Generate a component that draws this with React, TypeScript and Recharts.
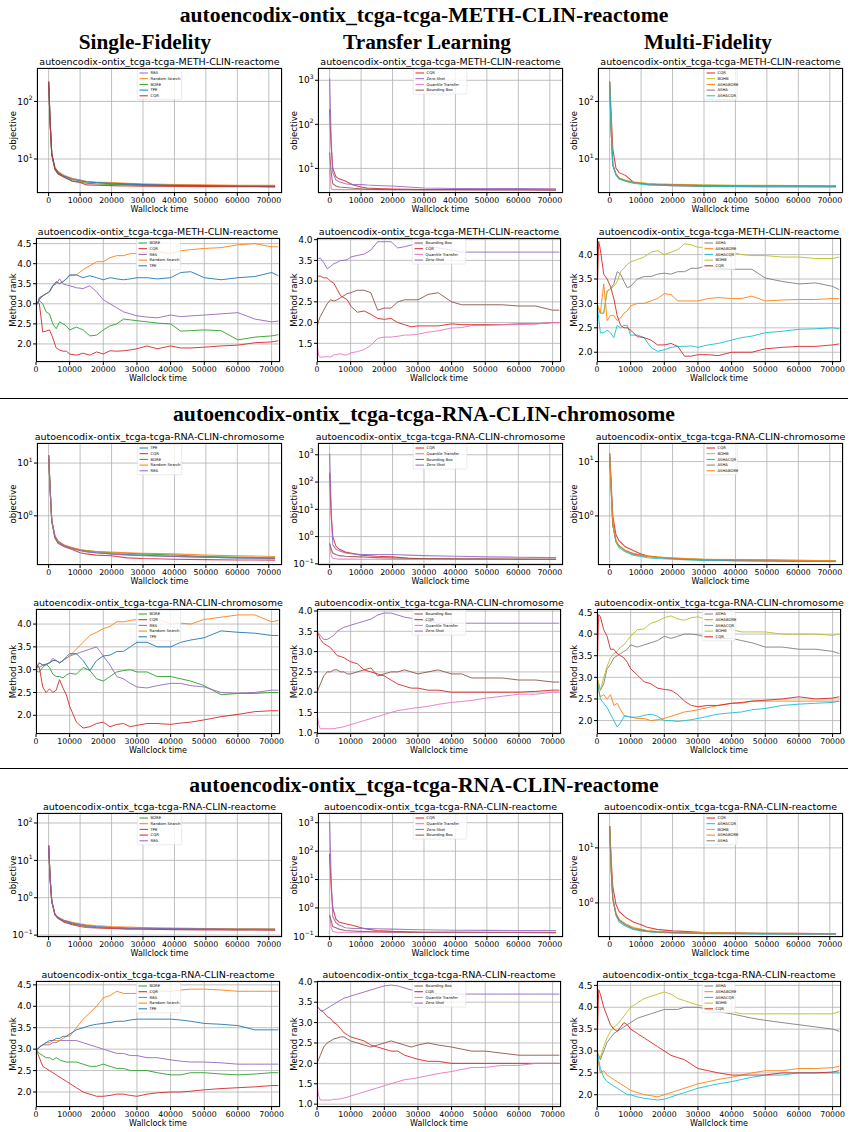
import React from "react";
import { LineChart, Line, XAxis, YAxis, CartesianGrid } from "recharts";

// ---- time grids (seconds) ----
const objTime = [0, 500, 1000, 2000, 3000, 5000, 7500, 10000, 12000, 15000, 20000, 25000, 30000, 40000, 50000, 60000, 72000];
const rankTime = [0, 500, 1000, 2000, 3000, 4000, 5000, 6000, 7000, 8000, 9000, 10000, 12000, 14000, 16000, 18000, 20000, 22000, 24000, 26000, 28000, 30000, 33000, 36000, 40000, 43000, 46000, 50000, 55000, 60000, 65000, 70000, 72000];
const xTicks = [0, 10000, 20000, 30000, 40000, 50000, 60000, 70000];

// ---- METH-CLIN-reactome ----
const methSfObjREA = [220, 40, 12, 7, 6, 5, 4.6, 4.3, 4.0, 3.9, 3.7, 3.6, 3.55, 3.5, 3.45, 3.4, 3.35];
const methSfObjRS = [220, 40, 12, 7, 6, 5.2, 4.6, 4.3, 4.1, 4.0, 3.9, 3.8, 3.7, 3.6, 3.55, 3.5, 3.5];
const methSfObjBORE = [220, 40, 12, 6.5, 5.5, 4.8, 4.2, 4.0, 3.8, 3.7, 3.6, 3.55, 3.5, 3.45, 3.4, 3.35, 3.3];
const methSfObjTPE = [220, 40, 12, 7, 5.8, 5, 4.4, 4.2, 4.0, 3.9, 3.8, 3.7, 3.6, 3.5, 3.45, 3.4, 3.38];
const methSfObjCQR = [220, 40, 12, 6.8, 5.6, 4.8, 4.1, 3.9, 3.55, 3.5, 3.45, 3.4, 3.38, 3.35, 3.32, 3.3, 3.28];

const methTlObjCQR = [220, 30, 10, 6.5, 5.8, 5.2, 4.2, 3.8, 3.6, 3.5, 3.4, 3.35, 3.3, 3.3, 3.28, 3.27, 3.25];
const methTlObjZS = [1100, 40, 8, 5.5, 5, 4.5, 4.3, 4.3, 4.2, 4.1, 4.0, 3.8, 3.6, 3.5, 3.5, 3.5, 3.45];
const methTlObjQT = [10, 3.5, 3.3, 3.3, 3.3, 3.3, 3.3, 3.3, 3.3, 3.3, 3.28, 3.28, 3.27, 3.27, 3.25, 3.25, 3.25];
const methTlObjBB = [23, 8, 4.5, 4.0, 3.8, 3.7, 3.55, 3.45, 3.4, 3.35, 3.3, 3.3, 3.3, 3.3, 3.28, 3.27, 3.25];

const methMfObjCQR = [220, 60, 15, 7, 5.8, 5.2, 4.0, 3.8, 3.6, 3.55, 3.45, 3.4, 3.35, 3.35, 3.3, 3.3, 3.3];
const methMfObjBOHB = [220, 30, 8, 5.5, 4.7, 4.3, 4.0, 3.9, 3.8, 3.7, 3.65, 3.6, 3.55, 3.5, 3.5, 3.45, 3.45];
const methMfObjASHABORE = [220, 30, 8, 5.5, 4.7, 4.2, 3.9, 3.8, 3.7, 3.65, 3.6, 3.55, 3.5, 3.45, 3.45, 3.45, 3.4];
const methMfObjASHA = [220, 30, 8, 5.4, 4.6, 4.2, 3.9, 3.75, 3.65, 3.6, 3.55, 3.5, 3.45, 3.42, 3.4, 3.38, 3.35];
const methMfObjASHACQR = [220, 30, 8, 5.3, 4.5, 4.1, 3.8, 3.65, 3.55, 3.5, 3.45, 3.4, 3.35, 3.32, 3.3, 3.3, 3.28];

const methSfRankBORE = [3.0, 3.05, 3.08, 3.0, 2.8, 2.75, 2.5, 2.38, 2.55, 2.5, 2.45, 2.35, 2.42, 2.35, 2.2, 2.22, 2.35, 2.45, 2.5, 2.62, 2.6, 2.58, 2.55, 2.52, 2.5, 2.32, 2.33, 2.35, 2.33, 2.1, 2.17, 2.2, 2.23];
const methSfRankCQR = [3.0, 3.05, 3.0, 2.3, 2.32, 2.35, 2.15, 1.9, 1.85, 1.82, 1.82, 1.75, 1.72, 1.77, 1.72, 1.8, 1.75, 1.83, 1.82, 1.83, 1.85, 1.88, 1.95, 1.88, 1.95, 1.9, 1.9, 1.92, 1.95, 1.97, 2.03, 2.05, 2.08];
const methSfRankREA = [3.0, 3.0, 3.1, 3.2, 3.25, 3.3, 3.45, 3.5, 3.62, 3.5, 3.47, 3.45, 3.4, 3.38, 3.45, 3.3, 3.1, 3.0, 2.9, 2.8, 2.75, 2.7, 2.67, 2.65, 2.72, 2.68, 2.7, 2.72, 2.75, 2.78, 2.62, 2.55, 2.57];
const methSfRankRS = [3.0, 3.0, 3.15, 3.2, 3.25, 3.3, 3.45, 3.55, 3.5, 3.55, 3.62, 3.7, 3.72, 3.85, 3.95, 4.05, 4.05, 4.15, 4.2, 4.2, 4.25, 4.25, 4.3, 4.3, 4.25, 4.32, 4.35, 4.38, 4.4, 4.47, 4.5, 4.42, 4.42];
const methSfRankTPE = [3.0, 3.0, 3.15, 3.2, 3.25, 3.3, 3.45, 3.55, 3.5, 3.55, 3.62, 3.72, 3.72, 3.65, 3.7, 3.65, 3.6, 3.65, 3.62, 3.6, 3.62, 3.65, 3.65, 3.62, 3.65, 3.78, 3.8, 3.65, 3.6, 3.65, 3.68, 3.78, 3.7];

const methTlRankBB = [1.9, 2.05, 2.15, 2.3, 2.45, 2.55, 2.52, 2.55, 2.6, 2.65, 2.7, 2.72, 2.78, 2.78, 2.72, 2.3, 2.35, 2.35, 2.5, 2.55, 2.55, 2.55, 2.68, 2.72, 2.5, 2.43, 2.43, 2.43, 2.43, 2.4, 2.4, 2.3, 2.3];
const methTlRankCQR = [3.1, 3.12, 3.12, 3.08, 3.08, 3.0, 2.95, 2.8, 2.65, 2.6, 2.55, 2.4, 2.25, 2.28, 2.2, 2.1, 2.08, 2.1, 2.0, 1.95, 1.9, 1.92, 1.92, 1.92, 1.97, 1.95, 1.95, 1.95, 1.95, 1.97, 1.97, 2.0, 2.0];
const methTlRankQT = [1.5, 1.2, 1.17, 1.17, 1.18, 1.17, 1.22, 1.23, 1.25, 1.22, 1.22, 1.27, 1.3, 1.35, 1.45, 1.62, 1.65, 1.65, 1.67, 1.7, 1.7, 1.72, 1.77, 1.8, 1.87, 1.88, 1.93, 1.93, 1.95, 1.95, 1.97, 2.0, 2.0];
const methTlRankZS = [3.55, 3.55, 3.55, 3.45, 3.3, 3.35, 3.42, 3.45, 3.5, 3.5, 3.52, 3.58, 3.62, 3.65, 3.75, 3.95, 3.95, 3.95, 3.8, 3.83, 3.87, 3.9, 3.85, 3.8, 3.75, 3.7, 3.7, 3.7, 3.7, 3.7, 3.7, 3.7, 3.7];

const methMfRankASHA = [3.0, 2.9, 2.8, 2.8, 3.25, 3.3, 3.4, 3.65, 3.6, 3.45, 3.32, 3.35, 3.5, 3.55, 3.55, 3.6, 3.62, 3.6, 3.65, 3.65, 3.72, 3.72, 3.78, 3.72, 3.7, 3.7, 3.7, 3.52, 3.45, 3.4, 3.42, 3.35, 3.28];
const methMfRankASHABORE = [3.0, 2.9, 2.8, 3.4, 2.65, 2.75, 2.75, 2.65, 2.7, 2.8, 2.85, 2.95, 3.0, 3.0, 3.05, 3.1, 3.2, 3.18, 3.05, 3.05, 3.05, 3.05, 3.1, 3.12, 3.1, 3.1, 3.15, 3.05, 3.07, 3.08, 3.08, 3.1, 3.1];
const methMfRankASHACQR = [3.0, 2.7, 2.4, 2.4, 2.45, 2.4, 2.3, 2.55, 2.5, 2.55, 2.55, 2.35, 2.35, 2.3, 2.1, 2.02, 2.05, 2.1, 2.12, 2.12, 2.13, 2.1, 2.15, 2.18, 2.25, 2.3, 2.33, 2.4, 2.43, 2.47, 2.48, 2.5, 2.48];
const methMfRankBOHB = [3.0, 2.9, 2.8, 2.8, 3.25, 3.3, 3.35, 3.45, 3.65, 3.72, 3.8, 3.85, 3.9, 3.95, 4.05, 4.08, 4.0, 4.05, 4.1, 4.22, 4.2, 4.15, 4.15, 4.1, 4.05, 4.0, 3.98, 3.98, 3.95, 3.95, 3.92, 3.92, 3.95];
const methMfRankCQR = [3.0, 4.27, 4.1, 3.6, 3.5, 3.35, 3.1, 2.75, 2.55, 2.5, 2.5, 2.45, 2.32, 2.3, 2.25, 2.15, 2.15, 2.18, 2.12, 1.92, 1.92, 1.95, 1.95, 1.93, 2.0, 2.0, 2.0, 2.07, 2.1, 2.12, 2.12, 2.15, 2.17];

// ---- RNA-CLIN-chromosome ----
const chrSfObjTPE = [14, 3, 0.8, 0.4, 0.32, 0.27, 0.24, 0.22, 0.21, 0.2, 0.19, 0.185, 0.18, 0.17, 0.165, 0.16, 0.155];
const chrSfObjCQR = [14, 3, 0.8, 0.38, 0.3, 0.26, 0.23, 0.2, 0.19, 0.18, 0.175, 0.16, 0.155, 0.15, 0.148, 0.146, 0.145];
const chrSfObjBORE = [14, 3, 0.8, 0.4, 0.32, 0.27, 0.245, 0.225, 0.22, 0.21, 0.2, 0.195, 0.19, 0.18, 0.17, 0.165, 0.16];
const chrSfObjRS = [14, 3, 0.8, 0.42, 0.33, 0.28, 0.25, 0.23, 0.22, 0.21, 0.205, 0.2, 0.195, 0.19, 0.18, 0.175, 0.17];
const chrSfObjREA = [14, 3, 0.8, 0.42, 0.33, 0.27, 0.24, 0.22, 0.21, 0.2, 0.19, 0.18, 0.175, 0.17, 0.165, 0.16, 0.158];

const chrTlObjCQR = [220, 5, 1.0, 0.45, 0.35, 0.27, 0.24, 0.21, 0.2, 0.19, 0.18, 0.16, 0.155, 0.15, 0.148, 0.146, 0.145];
const chrTlObjQT = [0.6, 0.2, 0.16, 0.155, 0.15, 0.15, 0.15, 0.148, 0.148, 0.147, 0.146, 0.145, 0.145, 0.145, 0.145, 0.145, 0.145];
const chrTlObjBB = [0.55, 0.35, 0.25, 0.22, 0.2, 0.19, 0.185, 0.18, 0.175, 0.17, 0.165, 0.16, 0.158, 0.155, 0.152, 0.15, 0.15];
const chrTlObjZS = [1100, 10, 0.5, 0.35, 0.3, 0.25, 0.23, 0.22, 0.22, 0.22, 0.22, 0.21, 0.2, 0.19, 0.18, 0.175, 0.17];

const chrMfObjCQR = [14, 4, 1.0, 0.45, 0.35, 0.27, 0.23, 0.2, 0.185, 0.175, 0.165, 0.158, 0.155, 0.15, 0.148, 0.146, 0.145];
const chrMfObjBOHB = [14, 3, 0.7, 0.35, 0.28, 0.23, 0.2, 0.19, 0.18, 0.175, 0.17, 0.165, 0.16, 0.158, 0.155, 0.152, 0.15];
const chrMfObjASHACQR = [14, 3, 0.7, 0.33, 0.26, 0.22, 0.19, 0.18, 0.17, 0.165, 0.16, 0.155, 0.152, 0.15, 0.148, 0.146, 0.145];
const chrMfObjASHA = [14, 3, 0.7, 0.35, 0.28, 0.23, 0.2, 0.19, 0.18, 0.172, 0.165, 0.16, 0.157, 0.155, 0.152, 0.15, 0.148];
const chrMfObjASHABORE = [14, 3, 0.7, 0.35, 0.28, 0.23, 0.205, 0.19, 0.18, 0.175, 0.168, 0.163, 0.16, 0.157, 0.155, 0.152, 0.15];

const chrSfRankBORE = [3.0, 2.95, 2.95, 3.05, 3.12, 3.05, 2.9, 2.85, 2.85, 2.82, 2.88, 2.92, 2.9, 3.05, 2.98, 2.8, 2.75, 2.85, 2.95, 2.98, 3.0, 2.95, 2.95, 2.85, 2.85, 2.8, 2.75, 2.65, 2.45, 2.48, 2.48, 2.5, 2.5];
const chrSfRankCQR = [3.0, 3.1, 3.05, 2.62, 2.5, 2.58, 2.5, 2.55, 2.78, 2.6, 2.45, 2.2, 1.85, 1.72, 1.75, 1.82, 1.85, 1.75, 1.8, 1.82, 1.75, 1.78, 1.82, 1.82, 1.8, 1.83, 1.85, 1.9, 1.97, 2.02, 2.08, 2.1, 2.1];
const chrSfRankREA = [3.0, 3.05, 3.05, 3.1, 3.1, 3.15, 3.25, 3.2, 3.15, 3.2, 3.25, 3.3, 3.35, 3.4, 3.45, 3.5, 3.3, 3.1, 2.85, 2.8, 2.7, 2.62, 2.6, 2.65, 2.7, 2.7, 2.65, 2.62, 2.5, 2.48, 2.5, 2.55, 2.55];
const chrSfRankRS = [3.0, 3.1, 3.15, 3.1, 3.12, 3.15, 3.2, 3.2, 3.15, 3.2, 3.25, 3.3, 3.45, 3.6, 3.75, 3.82, 3.9, 3.95, 4.05, 4.05, 4.08, 4.1, 4.1, 4.12, 4.0, 4.02, 4.0, 4.1, 4.15, 4.2, 4.2, 4.05, 4.08];
const chrSfRankTPE = [3.0, 3.1, 3.15, 3.1, 3.12, 3.15, 3.2, 3.2, 3.15, 3.2, 3.28, 3.35, 3.35, 3.2, 2.98, 3.2, 3.3, 3.32, 3.4, 3.4, 3.5, 3.6, 3.6, 3.5, 3.5, 3.6, 3.65, 3.7, 3.85, 3.82, 3.8, 3.75, 3.75];

const chrTlRankBB = [2.0, 2.1, 2.2, 2.4, 2.5, 2.5, 2.55, 2.55, 2.5, 2.5, 2.45, 2.45, 2.5, 2.55, 2.6, 2.4, 2.45, 2.5, 2.5, 2.55, 2.5, 2.45, 2.5, 2.55, 2.45, 2.45, 2.35, 2.35, 2.35, 2.3, 2.3, 2.25, 2.25];
const chrTlRankCQR = [3.5, 3.4, 3.3, 3.2, 3.15, 3.1, 3.0, 2.9, 2.88, 2.85, 2.8, 2.75, 2.7, 2.55, 2.5, 2.45, 2.4, 2.3, 2.2, 2.15, 2.1, 2.1, 2.05, 2.05, 2.0, 2.0, 2.0, 2.0, 2.0, 2.0, 2.02, 2.05, 2.05];
const chrTlRankQT = [1.5, 1.2, 1.1, 1.1, 1.1, 1.1, 1.1, 1.12, 1.13, 1.15, 1.18, 1.2, 1.25, 1.3, 1.35, 1.4, 1.45, 1.5, 1.55, 1.57, 1.6, 1.62, 1.65, 1.7, 1.75, 1.77, 1.8, 1.85, 1.9, 1.95, 1.95, 2.0, 2.0];
const chrTlRankZS = [3.5, 3.45, 3.4, 3.3, 3.3, 3.35, 3.4, 3.5, 3.55, 3.6, 3.62, 3.65, 3.7, 3.75, 3.8, 3.9, 3.95, 3.95, 3.9, 3.85, 3.82, 3.8, 3.75, 3.7, 3.7, 3.7, 3.7, 3.7, 3.7, 3.7, 3.7, 3.7, 3.7];

const chrMfRankASHA = [3.0, 2.85, 2.7, 2.85, 3.2, 3.3, 3.45, 3.5, 3.55, 3.6, 3.65, 3.75, 3.7, 3.75, 3.8, 3.85, 3.95, 3.9, 3.95, 4.0, 4.0, 3.98, 3.92, 3.9, 3.9, 3.85, 3.8, 3.7, 3.7, 3.65, 3.65, 3.6, 3.55];
const chrMfRankASHABORE = [3.0, 2.7, 2.55, 2.6, 2.5, 2.6, 2.35, 2.4, 2.25, 2.12, 2.1, 2.08, 2.05, 2.05, 2.0, 2.02, 2.05, 2.1, 2.15, 2.2, 2.22, 2.25, 2.3, 2.35, 2.4, 2.4, 2.45, 2.45, 2.45, 2.45, 2.45, 2.45, 2.45];
const chrMfRankASHACQR = [3.0, 2.7, 2.5, 2.4, 2.3, 2.15, 2.0, 1.85, 1.95, 2.1, 2.1, 2.08, 2.08, 2.12, 2.15, 2.1, 2.0, 2.0, 1.98, 2.0, 2.02, 2.05, 2.1, 2.15, 2.18, 2.2, 2.25, 2.28, 2.35, 2.38, 2.4, 2.42, 2.45];
const chrMfRankBOHB = [3.0, 2.85, 2.7, 3.0, 3.25, 3.45, 3.55, 3.6, 3.7, 3.75, 3.85, 3.95, 4.1, 4.12, 4.25, 4.3, 4.38, 4.42, 4.35, 4.32, 4.38, 4.4, 4.32, 4.2, 4.1, 4.05, 4.05, 4.05, 4.0, 4.0, 4.0, 3.97, 4.0];
const chrMfRankCQR = [3.0, 4.45, 4.4, 4.1, 3.95, 3.65, 3.65, 3.55, 3.5, 3.45, 3.35, 3.2, 3.05, 2.9, 2.85, 2.75, 2.72, 2.7, 2.6, 2.45, 2.35, 2.32, 2.35, 2.35, 2.4, 2.42, 2.45, 2.47, 2.5, 2.55, 2.5, 2.52, 2.55];

// ---- RNA-CLIN-reactome ----
const reaSfObjBORE = [25, 3, 0.8, 0.35, 0.28, 0.23, 0.2, 0.18, 0.17, 0.16, 0.155, 0.15, 0.148, 0.145, 0.143, 0.14, 0.14];
const reaSfObjRS = [25, 3, 0.8, 0.37, 0.3, 0.25, 0.22, 0.2, 0.19, 0.18, 0.17, 0.165, 0.16, 0.155, 0.15, 0.148, 0.146];
const reaSfObjTPE = [25, 3, 0.8, 0.36, 0.29, 0.24, 0.21, 0.19, 0.18, 0.17, 0.16, 0.155, 0.152, 0.148, 0.145, 0.143, 0.142];
const reaSfObjCQR = [25, 3, 0.8, 0.35, 0.28, 0.22, 0.19, 0.17, 0.16, 0.155, 0.15, 0.145, 0.143, 0.14, 0.138, 0.137, 0.136];
const reaSfObjREA = [25, 3, 0.8, 0.36, 0.29, 0.24, 0.21, 0.19, 0.175, 0.165, 0.158, 0.152, 0.15, 0.147, 0.145, 0.143, 0.142];

const reaTlObjCQR = [80, 5, 1.0, 0.4, 0.32, 0.28, 0.24, 0.2, 0.18, 0.16, 0.15, 0.145, 0.14, 0.138, 0.137, 0.136, 0.135];
const reaTlObjQT = [0.6, 0.2, 0.15, 0.14, 0.14, 0.14, 0.14, 0.14, 0.14, 0.14, 0.138, 0.138, 0.137, 0.137, 0.136, 0.136, 0.135];
const reaTlObjZS = [1100, 10, 0.5, 0.3, 0.25, 0.2, 0.19, 0.19, 0.19, 0.185, 0.18, 0.175, 0.17, 0.165, 0.162, 0.16, 0.16];
const reaTlObjBB = [0.55, 0.35, 0.22, 0.2, 0.18, 0.16, 0.155, 0.15, 0.148, 0.145, 0.142, 0.14, 0.14, 0.14, 0.14, 0.14, 0.14];

const reaMfObjCQR = [25, 6, 2.0, 0.95, 0.7, 0.55, 0.45, 0.4, 0.36, 0.33, 0.31, 0.3, 0.29, 0.285, 0.28, 0.28, 0.275];
const reaMfObjASHACQR = [25, 4, 1.2, 0.6, 0.45, 0.38, 0.33, 0.31, 0.3, 0.29, 0.285, 0.28, 0.275, 0.272, 0.27, 0.27, 0.27];
const reaMfObjBOHB = [25, 4, 1.2, 0.65, 0.5, 0.42, 0.36, 0.33, 0.31, 0.3, 0.295, 0.29, 0.285, 0.28, 0.28, 0.278, 0.277];
const reaMfObjASHABORE = [25, 4, 1.2, 0.65, 0.5, 0.41, 0.35, 0.33, 0.31, 0.3, 0.29, 0.285, 0.282, 0.28, 0.278, 0.276, 0.275];
const reaMfObjASHA = [25, 4, 1.2, 0.62, 0.48, 0.4, 0.34, 0.32, 0.305, 0.295, 0.288, 0.283, 0.28, 0.277, 0.275, 0.273, 0.272];

const reaSfRankBORE = [3.0, 2.95, 2.9, 2.85, 2.8, 2.8, 2.75, 2.8, 2.75, 2.72, 2.7, 2.7, 2.7, 2.65, 2.6, 2.6, 2.65, 2.6, 2.55, 2.55, 2.5, 2.5, 2.5, 2.45, 2.4, 2.4, 2.45, 2.45, 2.42, 2.4, 2.42, 2.45, 2.45];
const reaSfRankCQR = [3.0, 2.9, 2.8, 2.6, 2.55, 2.5, 2.45, 2.4, 2.35, 2.3, 2.25, 2.2, 2.1, 2.0, 1.95, 1.9, 1.9, 1.92, 1.95, 1.95, 1.92, 1.9, 1.95, 1.98, 2.0, 2.0, 2.02, 2.05, 2.08, 2.1, 2.12, 2.15, 2.15];
const reaSfRankREA = [3.0, 3.0, 3.05, 3.1, 3.1, 3.1, 3.15, 3.15, 3.2, 3.2, 3.2, 3.2, 3.2, 3.15, 3.1, 3.05, 3.0, 2.95, 2.9, 2.9, 2.85, 2.85, 2.8, 2.8, 2.75, 2.72, 2.7, 2.7, 2.68, 2.65, 2.65, 2.65, 2.65];
const reaSfRankRS = [3.0, 3.0, 3.05, 3.1, 3.15, 3.15, 3.2, 3.2, 3.2, 3.25, 3.3, 3.3, 3.5, 3.7, 3.85, 4.0, 4.2, 4.25, 4.35, 4.3, 4.3, 4.3, 4.32, 4.35, 4.35, 4.38, 4.4, 4.4, 4.38, 4.35, 4.35, 4.35, 4.35];
const reaSfRankTPE = [3.0, 3.0, 3.05, 3.1, 3.15, 3.2, 3.2, 3.25, 3.25, 3.3, 3.3, 3.35, 3.45, 3.5, 3.55, 3.58, 3.6, 3.62, 3.65, 3.65, 3.68, 3.7, 3.7, 3.7, 3.7, 3.68, 3.65, 3.6, 3.58, 3.55, 3.45, 3.45, 3.45];

const reaTlRankBB = [2.0, 2.1, 2.2, 2.4, 2.5, 2.55, 2.6, 2.62, 2.65, 2.65, 2.6, 2.55, 2.5, 2.45, 2.4, 2.45, 2.5, 2.55, 2.5, 2.45, 2.4, 2.45, 2.5, 2.45, 2.4, 2.35, 2.3, 2.3, 2.25, 2.2, 2.2, 2.2, 2.2];
const reaTlRankCQR = [3.4, 3.35, 3.3, 3.25, 3.15, 3.1, 3.0, 2.95, 2.85, 2.75, 2.7, 2.65, 2.6, 2.55, 2.45, 2.4, 2.35, 2.3, 2.3, 2.2, 2.15, 2.1, 2.05, 2.05, 2.0, 2.0, 2.0, 2.0, 2.0, 2.0, 2.0, 2.0, 2.0];
const reaTlRankQT = [1.5, 1.2, 1.1, 1.1, 1.1, 1.1, 1.12, 1.12, 1.13, 1.15, 1.17, 1.2, 1.25, 1.3, 1.35, 1.4, 1.45, 1.5, 1.55, 1.6, 1.62, 1.65, 1.7, 1.75, 1.8, 1.85, 1.9, 1.9, 1.95, 1.95, 2.0, 2.0, 2.0];
const reaTlRankZS = [3.4, 3.35, 3.3, 3.3, 3.35, 3.4, 3.45, 3.5, 3.55, 3.6, 3.62, 3.65, 3.7, 3.75, 3.8, 3.85, 3.9, 3.92, 3.9, 3.85, 3.8, 3.75, 3.75, 3.7, 3.7, 3.7, 3.7, 3.7, 3.7, 3.7, 3.7, 3.7, 3.7];

const reaMfRankASHA = [3.0, 2.9, 2.8, 3.0, 3.2, 3.3, 3.4, 3.45, 3.5, 3.55, 3.6, 3.65, 3.75, 3.8, 3.85, 3.9, 3.95, 3.95, 3.95, 4.0, 4.0, 4.0, 3.95, 3.9, 3.85, 3.8, 3.75, 3.7, 3.65, 3.6, 3.55, 3.5, 3.45];
const reaMfRankASHABORE = [3.0, 2.7, 2.5, 2.55, 2.45, 2.4, 2.35, 2.3, 2.25, 2.2, 2.15, 2.1, 2.05, 2.0, 1.98, 1.95, 2.0, 2.05, 2.1, 2.15, 2.2, 2.25, 2.3, 2.35, 2.4, 2.45, 2.5, 2.55, 2.55, 2.6, 2.6, 2.62, 2.65];
const reaMfRankASHACQR = [3.0, 2.8, 2.6, 2.4, 2.3, 2.25, 2.2, 2.15, 2.1, 2.05, 2.0, 2.0, 1.95, 1.92, 1.9, 1.88, 1.9, 1.95, 2.0, 2.05, 2.1, 2.15, 2.2, 2.25, 2.3, 2.35, 2.4, 2.45, 2.45, 2.5, 2.5, 2.5, 2.5];
const reaMfRankBOHB = [3.0, 2.9, 2.85, 3.1, 3.3, 3.45, 3.55, 3.6, 3.7, 3.8, 3.9, 4.0, 4.1, 4.2, 4.25, 4.3, 4.35, 4.3, 4.2, 4.15, 4.1, 4.05, 4.0, 3.95, 3.9, 3.85, 3.85, 3.85, 3.85, 3.85, 3.85, 3.85, 3.9];
const reaMfRankCQR = [3.0, 4.4, 4.3, 4.0, 3.8, 3.6, 3.5, 3.45, 3.55, 3.65, 3.6, 3.5, 3.4, 3.3, 3.2, 3.1, 3.0, 2.9, 2.85, 2.8, 2.7, 2.6, 2.55, 2.5, 2.45, 2.45, 2.45, 2.45, 2.5, 2.5, 2.5, 2.52, 2.55];

const COLORS: Record<string, string> = {
  TPE: "#1f77b4",
  "Random Search": "#ff7f0e",
  BORE: "#2ca02c",
  CQR: "#d62728",
  REA: "#9467bd",
  "Bounding Box": "#8c564b",
  "Quantile Transfer": "#e377c2",
  "Zero Shot": "#9467bd",
  ASHA: "#7f7f7f",
  BOHB: "#bcbd22",
  ASHACQR: "#17becf",
  ASHABORE: "#ff7f0e",
};

type Series = [string, number[]];
type PanelDef = {
  title: string;
  kind: "obj" | "rank";
  left: number;
  top: number;
  width: number;
  height: number;
  yDomain: [number, number];
  yTicks: number[];
  series: Series[];
};

const TITLES = [
  "autoencodix-ontix_tcga-tcga-METH-CLIN-reactome",
  "autoencodix-ontix_tcga-tcga-RNA-CLIN-chromosome",
  "autoencodix-ontix_tcga-tcga-RNA-CLIN-reactome",
];
const objLeft = [37, 318, 598];
const rankLeft = [36, 317, 597];
const groupRows = [
  { objTop: 68, objH: 125, rankTop: 238, rankH: 124 },
  { objTop: 443, objH: 122, rankTop: 609, rankH: 125 },
  { objTop: 813, objH: 124, rankTop: 981, rankH: 126 },
];

const objSeries: Series[][][] = [
  [
    [["REA", methSfObjREA], ["Random Search", methSfObjRS], ["BORE", methSfObjBORE], ["TPE", methSfObjTPE], ["CQR", methSfObjCQR]],
    [["CQR", methTlObjCQR], ["Zero Shot", methTlObjZS], ["Quantile Transfer", methTlObjQT], ["Bounding Box", methTlObjBB]],
    [["CQR", methMfObjCQR], ["BOHB", methMfObjBOHB], ["ASHABORE", methMfObjASHABORE], ["ASHA", methMfObjASHA], ["ASHACQR", methMfObjASHACQR]],
  ],
  [
    [["TPE", chrSfObjTPE], ["CQR", chrSfObjCQR], ["BORE", chrSfObjBORE], ["Random Search", chrSfObjRS], ["REA", chrSfObjREA]],
    [["CQR", chrTlObjCQR], ["Quantile Transfer", chrTlObjQT], ["Bounding Box", chrTlObjBB], ["Zero Shot", chrTlObjZS]],
    [["CQR", chrMfObjCQR], ["BOHB", chrMfObjBOHB], ["ASHACQR", chrMfObjASHACQR], ["ASHA", chrMfObjASHA], ["ASHABORE", chrMfObjASHABORE]],
  ],
  [
    [["BORE", reaSfObjBORE], ["Random Search", reaSfObjRS], ["TPE", reaSfObjTPE], ["CQR", reaSfObjCQR], ["REA", reaSfObjREA]],
    [["CQR", reaTlObjCQR], ["Quantile Transfer", reaTlObjQT], ["Zero Shot", reaTlObjZS], ["Bounding Box", reaTlObjBB]],
    [["CQR", reaMfObjCQR], ["ASHACQR", reaMfObjASHACQR], ["BOHB", reaMfObjBOHB], ["ASHABORE", reaMfObjASHABORE], ["ASHA", reaMfObjASHA]],
  ],
];

const rankSeries: Series[][][] = [
  [
    [["BORE", methSfRankBORE], ["CQR", methSfRankCQR], ["REA", methSfRankREA], ["Random Search", methSfRankRS], ["TPE", methSfRankTPE]],
    [["Bounding Box", methTlRankBB], ["CQR", methTlRankCQR], ["Quantile Transfer", methTlRankQT], ["Zero Shot", methTlRankZS]],
    [["ASHA", methMfRankASHA], ["ASHABORE", methMfRankASHABORE], ["ASHACQR", methMfRankASHACQR], ["BOHB", methMfRankBOHB], ["CQR", methMfRankCQR]],
  ],
  [
    [["BORE", chrSfRankBORE], ["CQR", chrSfRankCQR], ["REA", chrSfRankREA], ["Random Search", chrSfRankRS], ["TPE", chrSfRankTPE]],
    [["Bounding Box", chrTlRankBB], ["CQR", chrTlRankCQR], ["Quantile Transfer", chrTlRankQT], ["Zero Shot", chrTlRankZS]],
    [["ASHA", chrMfRankASHA], ["ASHABORE", chrMfRankASHABORE], ["ASHACQR", chrMfRankASHACQR], ["BOHB", chrMfRankBOHB], ["CQR", chrMfRankCQR]],
  ],
  [
    [["BORE", reaSfRankBORE], ["CQR", reaSfRankCQR], ["REA", reaSfRankREA], ["Random Search", reaSfRankRS], ["TPE", reaSfRankTPE]],
    [["Bounding Box", reaTlRankBB], ["CQR", reaTlRankCQR], ["Quantile Transfer", reaTlRankQT], ["Zero Shot", reaTlRankZS]],
    [["ASHA", reaMfRankASHA], ["ASHABORE", reaMfRankASHABORE], ["ASHACQR", reaMfRankASHACQR], ["BOHB", reaMfRankBOHB], ["CQR", reaMfRankCQR]],
  ],
];

const objDomains: [number, number][][] = [
  [[2.57, 380], [2.77, 1900], [2.57, 380]],
  [[0.117, 24], [0.091, 2700], [0.125, 22]],
  [[0.089, 185], [0.095, 2200], [0.24, 43]],
];
const objTicks = [
  [[10, 100], [10, 100, 1000], [10, 100]],
  [[1, 10], [0.1, 1, 10, 100, 1000], [1, 10]],
  [[0.1, 1, 10, 100], [0.1, 1, 10, 100, 1000], [1, 10]],
];
const rankDomains: [number, number][][] = [
  [[1.55, 4.64], [1.05, 4.04], [1.8, 4.34]],
  [[1.59, 4.33], [0.97, 4.05], [1.69, 4.58]],
  [[1.65, 4.59], [0.93, 4.02], [1.72, 4.6]],
];
const rankTicks = [
  [[2, 2.5, 3, 3.5, 4, 4.5], [1.5, 2, 2.5, 3, 3.5, 4], [2, 2.5, 3, 3.5, 4]],
  [[2, 2.5, 3, 3.5, 4], [1, 1.5, 2, 2.5, 3, 3.5, 4], [2, 2.5, 3, 3.5, 4, 4.5]],
  [[2, 2.5, 3, 3.5, 4, 4.5], [1, 1.5, 2, 2.5, 3, 3.5, 4], [2, 2.5, 3, 3.5, 4, 4.5]],
];

const panels: PanelDef[] = [];
groupRows.forEach((g, gi) => {
  [0, 1, 2].forEach((ci) => {
    panels.push({
      title: TITLES[gi],
      kind: "obj",
      left: objLeft[ci],
      top: g.objTop,
      width: 245,
      height: g.objH,
      yDomain: objDomains[gi][ci],
      yTicks: objTicks[gi][ci],
      series: objSeries[gi][ci],
    });
    panels.push({
      title: TITLES[gi],
      kind: "rank",
      left: rankLeft[ci],
      top: g.rankTop,
      width: 244,
      height: g.rankH,
      yDomain: rankDomains[gi][ci],
      yTicks: rankTicks[gi][ci],
      series: rankSeries[gi][ci],
    });
  });
});

const FONT = "'DejaVu Sans', sans-serif";
const YW = 30;
const XH = 14;
const PAD = 7;
const RPAD = 14;

function LogTick({ x, y, payload }: any) {
  const e = Math.round(Math.log10(payload.value));
  return (
    <text x={x} y={y} dy={3.2} textAnchor="end" fontSize={9} fill="#000" fontFamily={FONT}>
      10
      <tspan dy={-4.5} fontSize={6}>
        {e < 0 ? "\u2212" + Math.abs(e) : String(e)}
      </tspan>
    </text>
  );
}

function LegendBox({ cx, top, series }: { cx: number; top: number; series: Series[] }) {
  const maxLen = Math.max(...series.map((s) => s[0].length));
  const w = 15 + maxLen * 2.3;
  const h = series.length * 5.7 + 2.5;
  return (
    <svg style={{ position: "absolute", left: cx - w / 2, top, overflow: "visible" }} width={w} height={h}>
      <rect x={0.25} y={0.25} width={w - 0.5} height={h - 0.5} rx={1} fill="#fff" fillOpacity={0.8} stroke="#d6d6d6" strokeWidth={0.5} />
      {series.map(([name], i) => (
        <g key={name}>
          <line x1={2.5} x2={11} y1={4 + i * 5.7} y2={4 + i * 5.7} stroke={COLORS[name]} strokeWidth={1} />
          <text x={13.5} y={5.3 + i * 5.7} fontSize={3.8} fill="#000" fontFamily={FONT}>
            {name}
          </text>
        </g>
      ))}
    </svg>
  );
}

function Panel({ p }: { p: PanelDef }) {
  const time = p.kind === "obj" ? objTime : rankTime;
  const rows = time.map((t, i) => {
    const r: Record<string, number> = { t };
    p.series.forEach(([, vals], k) => {
      r["s" + k] = vals[i];
    });
    return r;
  });
  const W = p.width + YW + RPAD;
  const H = p.height + PAD + XH;
  const xDomain: [number, number] = p.kind === "obj" ? [-3700, 74200] : [0, 72500];
  return (
    <>
      <div style={{ position: "absolute", left: p.left - YW, top: p.top - PAD }}>
        <LineChart width={W} height={H} data={rows} margin={{ top: PAD, right: RPAD, left: 0, bottom: 0 }}>
          <CartesianGrid stroke="#b0b0b0" strokeWidth={0.8} />
          <XAxis
            dataKey="t"
            type="number"
            domain={xDomain}
            ticks={xTicks}
            allowDataOverflow
            height={XH}
            axisLine={false}
            tickLine={{ stroke: "#000" }}
            tickSize={3}
            tickMargin={1}
            interval={0}
            tick={{ fill: "#000", fontSize: 7.8, fontFamily: FONT }}
          />
          <YAxis
            type="number"
            scale={p.kind === "obj" ? "log" : "linear"}
            domain={p.yDomain}
            ticks={p.yTicks}
            allowDataOverflow
            width={YW}
            axisLine={false}
            tickLine={{ stroke: "#000" }}
            tickSize={3}
            tickMargin={1.5}
            interval={0}
            tick={p.kind === "obj" ? <LogTick /> : { fill: "#000", fontSize: 9, fontFamily: FONT }}
            tickFormatter={(v: number) => v.toFixed(1)}
          />
          {p.series.map(([name], k) => (
            <Line
              key={name}
              dataKey={"s" + k}
              type="linear"
              stroke={COLORS[name]}
              strokeWidth={p.kind === "obj" ? 1.1 : 0.9}
              strokeOpacity={p.kind === "obj" ? 0.85 : 1}
              dot={false}
              isAnimationActive={false}
            />
          ))}
        </LineChart>
      </div>
      <div
        style={{
          position: "absolute",
          left: p.left,
          top: p.top,
          width: p.width,
          height: p.height,
          border: "1px solid #000",
          boxSizing: "border-box",
          pointerEvents: "none",
        }}
      />
      <LegendBox cx={p.left + p.width / 2} top={p.top + 1} series={p.series} />
    </>
  );
}

const headerX = [145, 427, 708];
const headers = ["Single-Fidelity", "Transfer Learning", "Multi-Fidelity"];
const groupTitleY = [22, 421, 792];
const yLabelX = [13, 294, 574];

export default function App() {
  return (
    <div style={{ position: "absolute", left: 0, top: 0, width: 854, height: 1132, background: "#fff", overflow: "hidden" }}>
      {panels.map((p, i) => (
        <Panel key={i} p={p} />
      ))}
      <svg style={{ position: "absolute", left: 0, top: 0, pointerEvents: "none" }} width={854} height={1132}>
        {groupTitleY.map((y, gi) => (
          <text key={gi} x={424} y={y} textAnchor="middle" fontFamily="'Liberation Serif', serif" fontWeight="bold" fontSize={21.7}>
            {TITLES[gi]}
          </text>
        ))}
        {headers.map((h, i) => (
          <text key={h} x={headerX[i]} y={49} textAnchor="middle" fontFamily="'Liberation Serif', serif" fontWeight="bold" fontSize={21.3}>
            {h}
          </text>
        ))}
        <line x1={0} x2={848} y1={398.5} y2={398.5} stroke="#000" strokeWidth={1} />
        <line x1={0} x2={848} y1={768.5} y2={768.5} stroke="#000" strokeWidth={1} />
        {panels.map((p, i) => {
          const ci = i % 6 >> 1;
          const cx = p.left + p.width / 2;
          const cy = p.top + p.height / 2;
          return (
            <g key={i} fontFamily={FONT} fill="#000">
              <text x={cx} y={p.top - 3} textAnchor="middle" fontSize={9.5}>
                {p.title}
              </text>
              <text x={cx} y={p.top + p.height + 18.5} textAnchor="middle" fontSize={8}>
                Wallclock time
              </text>
              <text
                x={yLabelX[ci]}
                y={cy}
                textAnchor="middle"
                fontSize={8.5}
                transform={`rotate(-90 ${yLabelX[ci]} ${cy})`}
                dy={3}
              >
                {p.kind === "obj" ? "objective" : "Method rank"}
              </text>
            </g>
          );
        })}
      </svg>
    </div>
  );
}
